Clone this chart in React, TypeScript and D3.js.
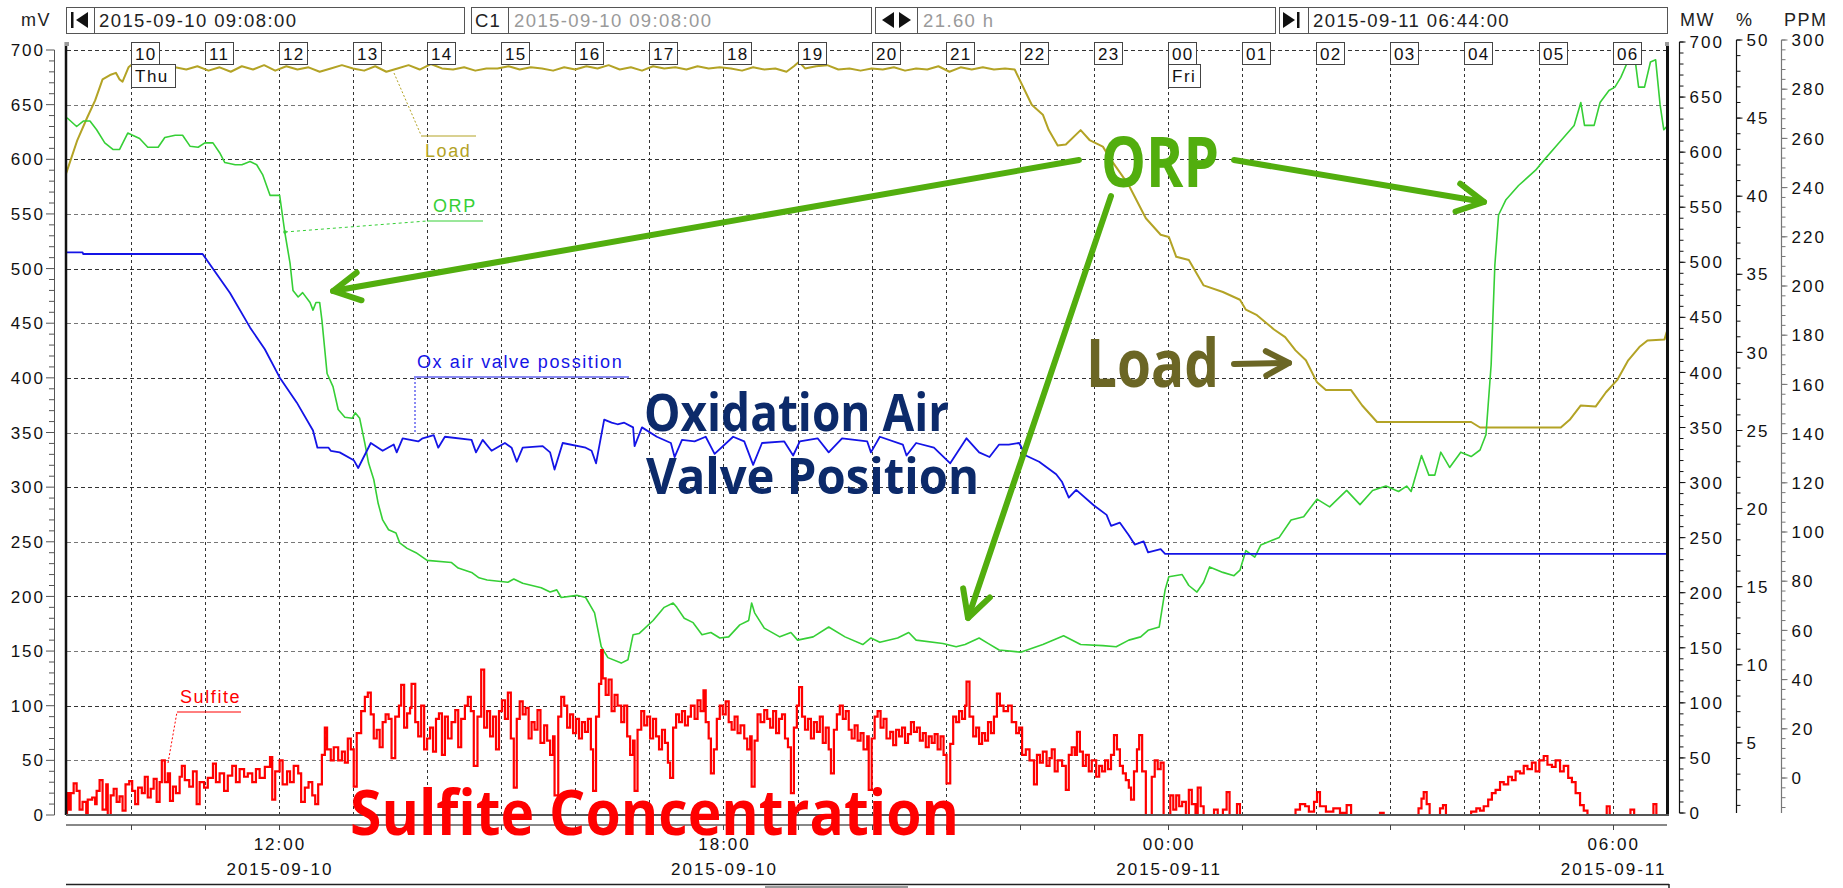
import React from "react";
import * as d3 from "d3";

// ---------- DATA (time = hours since 2015-09-10 00:00) ----------
const loadData: [number, number][] = [
  [9.13, 581], [9.28, 611], [9.41, 631], [9.52, 647], [9.62, 666], [9.72, 670], [9.8, 672], [9.85, 666], [9.89, 664], [9.97, 677], [10.04, 681],
  [10.15, 676], [10.3, 678], [10.45, 674], [10.6, 677], [10.75, 675], [10.9, 678], [11.05, 674], [11.2, 677], [11.35, 673], [11.5, 678],
  [11.65, 675], [11.8, 679], [11.95, 674], [12.1, 678], [12.25, 675], [12.4, 677], [12.55, 673], [12.7, 676], [12.85, 679], [13.0, 676],
  [13.15, 674], [13.3, 678], [13.45, 673], [13.6, 676], [13.75, 679], [13.9, 675], [14.05, 680], [14.2, 676], [14.35, 675], [14.5, 677],
  [14.65, 674], [14.8, 676], [14.95, 676], [15.1, 678], [15.25, 675], [15.4, 677], [15.55, 676], [15.7, 674], [15.85, 677], [16.0, 675],
  [16.15, 678], [16.3, 676], [16.45, 679], [16.6, 675], [16.75, 677], [16.9, 674], [17.05, 678], [17.2, 676], [17.35, 677], [17.5, 675],
  [17.65, 678], [17.8, 676], [17.95, 677], [18.1, 676], [18.25, 674], [18.4, 677], [18.55, 675], [18.7, 676], [18.85, 673], [18.95, 678],
  [19.02, 682], [19.1, 676], [19.25, 678], [19.4, 679], [19.55, 675], [19.7, 676], [19.85, 674], [20.0, 676], [20.15, 675], [20.3, 677],
  [20.45, 674], [20.6, 676], [20.75, 675], [20.9, 678], [21.05, 673], [21.2, 677], [21.35, 675], [21.5, 677], [21.65, 675], [21.8, 676],
  [21.93, 675], [22.16, 643], [22.31, 634], [22.39, 620], [22.51, 606], [22.62, 607], [22.82, 620], [22.94, 611], [23.12, 605], [23.23, 593],
  [23.47, 570], [23.7, 540], [23.9, 525], [24.01, 523], [24.11, 505], [24.28, 502], [24.48, 479], [24.74, 473], [24.97, 466], [25.05, 457],
  [25.2, 452], [25.43, 439], [25.58, 432], [25.72, 420], [25.86, 411], [26.01, 391], [26.13, 384], [26.47, 384], [26.62, 370], [26.82, 355],
  [28.09, 355], [28.21, 350], [29.3, 350], [29.42, 357], [29.57, 370], [29.77, 369], [29.91, 382], [30.06, 393], [30.21, 411], [30.36, 423],
  [30.47, 429], [30.7, 430], [30.73, 437],
];

const orpData: [number, number][] = [
  [9.14, 638], [9.27, 630], [9.36, 635], [9.45, 635], [9.54, 627], [9.65, 615], [9.76, 609], [9.85, 609], [9.96, 624], [10.12, 619],
  [10.23, 611], [10.37, 611], [10.46, 620], [10.6, 622], [10.7, 622], [10.8, 612], [10.91, 611], [11.0, 615], [11.11, 615], [11.2, 606],
  [11.27, 597], [11.41, 595], [11.5, 595], [11.61, 598], [11.7, 595], [11.78, 586], [11.88, 567], [12.01, 567], [12.08, 533], [12.15, 505],
  [12.19, 480], [12.26, 474], [12.32, 478], [12.42, 469], [12.46, 462], [12.5, 469], [12.55, 469], [12.58, 453], [12.65, 404], [12.73, 392],
  [12.8, 371], [12.89, 364], [12.99, 363], [13.03, 368], [13.09, 363], [13.16, 340], [13.21, 322], [13.28, 307], [13.34, 285], [13.4, 270],
  [13.48, 261], [13.58, 258], [13.63, 249], [13.73, 244], [13.85, 240], [14.0, 233], [14.33, 231], [14.42, 226], [14.6, 222], [14.7, 217],
  [14.81, 215], [15.09, 213], [15.17, 216], [15.29, 212], [15.54, 208], [15.66, 204], [15.75, 206], [15.81, 199], [16.02, 201], [16.14, 199],
  [16.26, 185], [16.35, 154], [16.44, 144], [16.62, 139], [16.71, 142], [16.78, 165], [16.86, 166], [17.05, 178], [17.2, 190], [17.32, 194],
  [17.37, 190], [17.47, 180], [17.59, 176], [17.71, 165], [17.83, 167], [17.95, 162], [18.07, 163], [18.22, 174], [18.34, 178], [18.38, 194],
  [18.42, 185], [18.55, 171], [18.76, 163], [18.91, 167], [19.0, 160], [19.21, 163], [19.42, 172], [19.64, 163], [19.88, 156], [19.99, 162],
  [20.11, 158], [20.35, 162], [20.5, 167], [20.6, 160], [20.96, 157], [21.14, 154], [21.26, 156], [21.45, 162], [21.57, 157], [21.72, 151],
  [22.01, 149], [22.31, 156], [22.59, 164], [22.82, 156], [23.12, 155], [23.3, 154], [23.47, 160], [23.63, 163], [23.73, 169], [23.88, 172],
  [23.96, 206], [24.01, 218], [24.19, 220], [24.28, 210], [24.39, 204], [24.48, 213], [24.56, 227], [24.74, 222], [24.89, 219], [24.97, 224],
  [25.05, 242], [25.17, 236], [25.25, 247], [25.5, 254], [25.66, 270], [25.83, 273], [26.01, 289], [26.18, 282], [26.41, 297], [26.59, 284],
  [26.76, 297], [26.94, 301], [27.11, 296], [27.22, 301], [27.28, 296], [27.42, 329], [27.52, 311], [27.6, 311], [27.68, 332], [27.8, 318],
  [27.95, 332], [28.09, 328], [28.21, 334], [28.29, 348], [28.36, 412], [28.41, 503], [28.46, 549], [28.56, 563], [28.73, 576], [28.96, 590],
  [29.07, 599], [29.25, 613], [29.48, 631], [29.57, 652], [29.62, 631], [29.75, 631], [29.83, 652], [29.95, 663], [30.03, 666], [30.11, 675],
  [30.2, 689], [30.29, 698], [30.35, 666], [30.43, 666], [30.51, 689], [30.58, 691], [30.64, 650], [30.69, 627], [30.73, 630],
];

const valveData: [number, number][] = [
  [9.13, 36.4], [9.35, 36.4], [9.36, 36.3], [10.97, 36.3], [11.34, 33.8], [11.61, 31.6], [11.81, 30.2], [12.01, 28.4], [12.24, 26.8],
  [12.46, 25.0], [12.52, 23.9], [12.67, 23.9], [12.7, 23.7], [12.82, 23.6], [13.01, 23.1], [13.07, 22.6], [13.24, 24.2], [13.4, 23.7],
  [13.55, 24.1], [13.59, 23.6], [13.67, 24.5], [13.88, 24.3], [13.94, 24.5], [14.09, 24.7], [14.15, 23.9], [14.24, 24.6], [14.6, 24.4],
  [14.66, 23.6], [14.75, 24.4], [14.87, 23.7], [15.05, 24.2], [15.14, 23.9], [15.21, 23.0], [15.29, 23.9], [15.56, 24.0], [15.66, 23.6],
  [15.72, 22.5], [15.83, 24.2], [16.14, 23.9], [16.22, 23.7], [16.28, 22.9], [16.39, 25.7], [16.49, 25.5], [16.57, 25.4], [16.66, 25.5],
  [16.78, 25.2], [16.8, 24.0], [16.9, 25.2], [17.1, 24.6], [17.29, 24.2], [17.34, 23.3], [17.44, 24.4], [17.61, 24.3], [17.76, 24.6],
  [17.88, 23.5], [18.13, 24.6], [18.28, 24.3], [18.4, 22.8], [18.52, 24.2], [18.82, 24.3], [18.94, 23.4], [19.03, 24.3], [19.27, 24.5],
  [19.42, 23.6], [19.6, 24.5], [19.94, 24.3], [19.99, 23.6], [20.11, 24.6], [20.42, 24.1], [20.47, 23.4], [20.6, 24.2], [20.84, 23.9],
  [21.06, 22.9], [21.28, 24.5], [21.45, 23.6], [21.59, 23.3], [21.72, 24.1], [21.85, 24.1], [21.99, 24.2], [22.08, 23.4], [22.26, 23.0],
  [22.49, 22.2], [22.57, 21.7], [22.66, 20.7], [22.76, 21.2], [23.0, 20.2], [23.17, 19.6], [23.23, 18.9], [23.35, 19.1], [23.47, 18.3],
  [23.55, 17.7], [23.67, 17.9], [23.73, 17.2], [23.9, 17.4], [23.96, 17.1], [30.73, 17.1],
];

const sulfiteData: [number, number][] = [
  [9.13, 0], [9.14, 20], [9.17, 5], [9.19, 20], [9.23, 29], [9.27, 22], [9.31, 5], [9.35, 12], [9.4, 0], [9.42, 14], [9.48, 16], [9.52, 10],
  [9.54, 22], [9.58, 32], [9.62, 5], [9.67, 28], [9.69, 0], [9.73, 18], [9.77, 24], [9.81, 12], [9.85, 17], [9.89, 4], [9.93, 28], [9.98, 31],
  [10.02, 22], [10.06, 10], [10.1, 25], [10.15, 20], [10.19, 35], [10.23, 16], [10.27, 24], [10.31, 33], [10.35, 12], [10.39, 30], [10.42, 50],
  [10.46, 30], [10.5, 38], [10.53, 13], [10.57, 26], [10.61, 20], [10.66, 35], [10.69, 45], [10.73, 32], [10.79, 26], [10.84, 40], [10.89, 10],
  [10.93, 30], [10.99, 25], [11.04, 34], [11.11, 47], [11.15, 30], [11.2, 38], [11.26, 22], [11.31, 36], [11.37, 45], [11.42, 30], [11.47, 42],
  [11.53, 35], [11.58, 38], [11.64, 30], [11.69, 42], [11.74, 34], [11.81, 44], [11.88, 53], [11.91, 14], [11.95, 40], [12.01, 50], [12.05, 28],
  [12.11, 40], [12.15, 30], [12.2, 45], [12.26, 38], [12.3, 12], [12.35, 25], [12.4, 30], [12.45, 18], [12.49, 10], [12.53, 28], [12.58, 55],
  [12.62, 80], [12.65, 60], [12.7, 50], [12.74, 62], [12.8, 50], [12.85, 58], [12.89, 48], [12.93, 70], [12.97, 60], [13.01, 26], [13.05, 75],
  [13.11, 95], [13.16, 108], [13.2, 112], [13.24, 92], [13.28, 70], [13.32, 78], [13.36, 62], [13.4, 85], [13.44, 92], [13.48, 88], [13.52, 52],
  [13.57, 90], [13.62, 100], [13.65, 119], [13.69, 80], [13.73, 93], [13.77, 98], [13.79, 120], [13.84, 85], [13.88, 72], [13.92, 100], [13.96, 60],
  [14.0, 70], [14.04, 80], [14.08, 58], [14.12, 88], [14.16, 93], [14.2, 55], [14.24, 90], [14.28, 70], [14.33, 85], [14.38, 96], [14.42, 62],
  [14.46, 88], [14.51, 100], [14.55, 108], [14.59, 95], [14.63, 45], [14.68, 90], [14.73, 133], [14.77, 80], [14.81, 95], [14.85, 72], [14.89, 90],
  [14.93, 60], [14.97, 95], [15.01, 105], [15.05, 88], [15.09, 112], [15.13, 70], [15.17, 25], [15.21, 88], [15.25, 104], [15.29, 92], [15.33, 98],
  [15.37, 70], [15.41, 85], [15.45, 78], [15.49, 96], [15.53, 66], [15.58, 82], [15.62, 68], [15.66, 55], [15.7, 72], [15.72, 18], [15.77, 90],
  [15.81, 108], [15.85, 100], [15.89, 80], [15.93, 92], [15.97, 75], [16.01, 88], [16.05, 70], [16.09, 85], [16.13, 76], [16.17, 88], [16.21, 60],
  [16.24, 22], [16.28, 90], [16.32, 120], [16.35, 151], [16.37, 125], [16.41, 110], [16.45, 124], [16.49, 95], [16.53, 110], [16.57, 100],
  [16.62, 85], [16.66, 100], [16.7, 72], [16.74, 55], [16.78, 68], [16.8, 22], [16.84, 78], [16.89, 95], [16.93, 82], [16.97, 90], [17.01, 70],
  [17.05, 88], [17.09, 72], [17.13, 60], [17.17, 78], [17.21, 66], [17.25, 48], [17.28, 34], [17.32, 80], [17.36, 92], [17.4, 85], [17.44, 95],
  [17.48, 82], [17.52, 90], [17.56, 100], [17.61, 88], [17.65, 105], [17.69, 95], [17.73, 114], [17.76, 85], [17.8, 70], [17.83, 38], [17.87, 60],
  [17.91, 88], [17.95, 100], [17.99, 92], [18.03, 104], [18.07, 85], [18.11, 78], [18.15, 90], [18.19, 75], [18.23, 82], [18.28, 70], [18.32, 60],
  [18.36, 72], [18.38, 26], [18.42, 68], [18.46, 92], [18.5, 85], [18.55, 96], [18.59, 88], [18.63, 80], [18.67, 95], [18.71, 75], [18.75, 88],
  [18.79, 92], [18.83, 70], [18.87, 62], [18.91, 20], [18.95, 80], [18.99, 100], [19.02, 117], [19.06, 90], [19.1, 78], [19.14, 88], [19.18, 70],
  [19.22, 85], [19.26, 76], [19.3, 90], [19.34, 66], [19.38, 80], [19.42, 60], [19.45, 38], [19.49, 78], [19.53, 92], [19.57, 100], [19.61, 88],
  [19.65, 95], [19.69, 78], [19.73, 70], [19.77, 82], [19.81, 68], [19.85, 75], [19.89, 60], [19.94, 72], [19.96, 23], [20.0, 70], [20.04, 90],
  [20.08, 95], [20.12, 80], [20.16, 88], [20.2, 70], [20.25, 76], [20.29, 64], [20.33, 78], [20.37, 72], [20.41, 80], [20.45, 66], [20.49, 74],
  [20.53, 85], [20.57, 76], [20.61, 80], [20.65, 68], [20.69, 75], [20.73, 62], [20.77, 72], [20.81, 66], [20.85, 74], [20.89, 60], [20.93, 72],
  [20.97, 55], [21.01, 29], [21.06, 65], [21.1, 90], [21.14, 85], [21.18, 95], [21.22, 88], [21.26, 100], [21.28, 122], [21.32, 90], [21.37, 72],
  [21.41, 80], [21.45, 65], [21.49, 75], [21.53, 68], [21.57, 85], [21.61, 75], [21.65, 90], [21.69, 111], [21.73, 100], [21.78, 95], [21.84, 100],
  [21.89, 85], [21.95, 75], [21.99, 80], [22.03, 55], [22.08, 60], [22.13, 50], [22.19, 28], [22.23, 55], [22.27, 48], [22.31, 58], [22.36, 45],
  [22.4, 52], [22.43, 60], [22.47, 40], [22.51, 50], [22.57, 45], [22.62, 23], [22.66, 55], [22.7, 62], [22.74, 55], [22.77, 76], [22.81, 58],
  [22.85, 45], [22.89, 55], [22.93, 40], [22.97, 50], [23.03, 35], [23.07, 45], [23.11, 40], [23.15, 50], [23.19, 42], [23.23, 55], [23.27, 73],
  [23.31, 60], [23.35, 45], [23.39, 38], [23.43, 32], [23.47, 25], [23.5, 14], [23.54, 40], [23.58, 60], [23.61, 73], [23.65, 40], [23.7, 0],
  [23.78, 35], [23.82, 50], [23.86, 42], [23.9, 48], [23.94, 0], [24.03, 18], [24.07, 5], [24.11, 18], [24.15, 8], [24.19, 12], [24.24, 0],
  [24.28, 23], [24.32, 10], [24.37, 0], [24.4, 25], [24.44, 8], [24.48, 0], [24.62, 5], [24.67, 0], [24.74, 5], [24.79, 21], [24.83, 0],
  [24.93, 10], [24.97, 0], [25.72, 5], [25.78, 10], [25.85, 8], [25.9, 3], [25.97, 12], [26.01, 21], [26.05, 8], [26.13, 3], [26.23, 6],
  [26.32, 2], [26.41, 9], [26.47, 0], [26.86, 2], [26.91, 0], [27.38, 6], [27.42, 15], [27.45, 21], [27.49, 10], [27.53, 0], [27.67, 6],
  [27.71, 9], [27.75, 0], [28.09, 3], [28.16, 6], [28.21, 4], [28.26, 8], [28.32, 14], [28.37, 20], [28.42, 23], [28.48, 30], [28.53, 28],
  [28.59, 35], [28.64, 32], [28.69, 40], [28.75, 38], [28.8, 45], [28.85, 42], [28.91, 48], [28.96, 40], [29.01, 50], [29.07, 54], [29.12, 46],
  [29.18, 44], [29.23, 50], [29.29, 40], [29.34, 45], [29.4, 34], [29.45, 30], [29.5, 20], [29.56, 9], [29.61, 4], [29.66, 0], [29.92, 8],
  [29.96, 0], [30.24, 5], [30.29, 0], [30.55, 10], [30.59, 0], [30.73, 0],
];

const mvTicks = [0, 50, 100, 150, 200, 250, 300, 350, 400, 450, 500, 550, 600, 650, 700];
const mwTicks = [0, 50, 100, 150, 200, 250, 300, 350, 400, 450, 500, 550, 600, 650, 700];
const pctTicks = [5, 10, 15, 20, 25, 30, 35, 40, 45, 50];
const ppmTicks = [0, 20, 40, 60, 80, 100, 120, 140, 160, 180, 200, 220, 240, 260, 280, 300];
const timeLabelHours = [12, 18, 24, 30];
const dayBoxes: [number, string][] = [[10, "Thu"], [24, "Fri"]];

// ---------- SCALES ----------
const base = new Date(2015, 8, 10, 0, 0, 0).getTime();
const toDate = (h: number) => new Date(base + h * 3600000);
const tStart = toDate(9 + 8 / 60);
const tEnd = toDate(30 + 44 / 60);

const x = d3.scaleTime().domain([tStart, tEnd]).range([66.5, 1667]);
const yMv = d3.scaleLinear().domain([0, 700]).range([815, 50]);
const yMw = d3.scaleLinear().domain([0, 700]).range([813, 42]);
const yPct = d3.scaleLinear().domain([0, 50]).range([821, 40]);
const yPpm = d3.scaleLinear().domain([0, 300]).range([778, 40]);

const FONT = "'Liberation Sans', Arial, sans-serif";
const BIG = "'Open Sans', 'Noto Sans', sans-serif";

const lineGen = (ys: (v: number) => number, curve: any = d3.curveLinear) =>
  d3.line<[number, number]>().x((d) => x(toDate(d[0]))).y((d) => ys(d[1])).curve(curve);

function Arrow({ x1, y1, x2, y2, color, w = 6, arm = 30, ang = 28 }: any) {
  const a = Math.atan2(y1 - y2, x1 - x2);
  const r = (ang * Math.PI) / 180;
  const p1 = [x2 + arm * Math.cos(a + r), y2 + arm * Math.sin(a + r)];
  const p2 = [x2 + arm * Math.cos(a - r), y2 + arm * Math.sin(a - r)];
  return (
    <g stroke={color} strokeWidth={w} strokeLinecap="round" strokeLinejoin="round" fill="none">
      <line x1={x1} y1={y1} x2={x2} y2={y2} />
      <polyline points={`${p1[0]},${p1[1]} ${x2},${y2} ${p2[0]},${p2[1]}`} />
    </g>
  );
}

function RightAxis({ scale, x0, major, minorStep, yMin, yMax, lo, hi, color = "#111" }: any) {
  const minors = d3.range(lo, hi + 0.001, minorStep).filter((v: number) => scale(v) <= yMax + 0.5 && scale(v) >= yMin - 0.5);
  return (
    <g>
      <line x1={x0} x2={x0} y1={yMin} y2={yMax} stroke={color} strokeWidth={1.2} />
      {minors.map((v: number, i: number) => (
        <line key={"m" + i} x1={x0} x2={x0 + 4} y1={scale(v)} y2={scale(v)} stroke={color} strokeWidth={1} />
      ))}
      {major.filter((v: number) => scale(v) <= yMax + 0.5).map((v: number) => (
        <g key={v}>
          <line x1={x0} x2={x0 + 6} y1={scale(v)} y2={scale(v)} stroke={color} strokeWidth={1} />
          <text x={x0 + 10} y={scale(v)} dy="0.36em" fontSize={17} letterSpacing={2} fill="#111" fontFamily={FONT}>
            {v}
          </text>
        </g>
      ))}
    </g>
  );
}

export default function App() {
  const hours = d3.timeHour.every(1)!.range(tStart, tEnd);
  const fmtH = d3.timeFormat("%H");
  const fmtHM = d3.timeFormat("%H:%M");
  const fmtD = d3.timeFormat("%Y-%m-%d");
  const mvMinor = d3.range(0, 701, 10);

  const loadPath = lineGen(yMw)(loadData) || "";
  const orpPath = lineGen(yMv)(orpData) || "";
  const valvePath = lineGen(yPct)(valveData) || "";
  const sulfitePath = lineGen(yMv, d3.curveStepAfter)(sulfiteData) || "";

  const headerBox = (x0: number, x1: number, divX: number) => (
    <g>
      <rect x={x0 + 0.5} y={7.5} width={x1 - x0} height={26} fill="#fff" stroke="#555" strokeWidth={1} />
      <line x1={divX + 0.5} x2={divX + 0.5} y1={8} y2={33} stroke="#555" />
    </g>
  );

  return (
    <svg width={1843} height={888} style={{ position: "absolute", left: 0, top: 0, background: "#fff" }} fontFamily={FONT}>
      <rect x={0} y={0} width={1843} height={888} fill="#fff" />

      {/* header */}
      <text x={21} y={26} fontSize={18} letterSpacing={1.5} fill="#222">mV</text>
      {headerBox(66, 464, 94)}
      <rect x={71} y={12} width={2.5} height={16} fill="#111" />
      <polygon points="88,12 76,20 88,28" fill="#111" />
      <text x={99} y={27} fontSize={18.5} letterSpacing={1.4} fill="#222">2015-09-10 09:08:00</text>

      {headerBox(471, 871, 508)}
      <text x={475} y={27} fontSize={18.5} letterSpacing={1.2} fill="#222">C1</text>
      <text x={514} y={27} fontSize={18.5} letterSpacing={1.4} fill="#9a9a9a">2015-09-10 09:08:00</text>

      {headerBox(875, 1275, 917)}
      <polygon points="894,12 882,20 894,28" fill="#111" />
      <polygon points="899,12 911,20 899,28" fill="#111" />
      <text x={923} y={27} fontSize={18.5} letterSpacing={1.4} fill="#9a9a9a">21.60 h</text>

      {headerBox(1279, 1667, 1308)}
      <polygon points="1283,12 1295,20 1283,28" fill="#111" />
      <rect x={1297} y={12} width={2.5} height={16} fill="#111" />
      <text x={1313} y={27} fontSize={18.5} letterSpacing={1.4} fill="#222">2015-09-11 06:44:00</text>

      <text x={1680} y={26} fontSize={18} letterSpacing={1.5} fill="#222">MW</text>
      <text x={1736} y={26} fontSize={18} letterSpacing={1.5} fill="#222">%</text>
      <text x={1784} y={26} fontSize={18} letterSpacing={1.5} fill="#222">PPM</text>

      {/* horizontal grid */}
      {mvTicks.filter((v) => v > 0).map((v) => (
        <line key={"hg" + v} x1={67} x2={1666} y1={Math.round(yMv(v)) + 0.5} y2={Math.round(yMv(v)) + 0.5}
          stroke={v % 100 === 0 ? "#333" : "#777"} strokeWidth={1} strokeDasharray="4 3" />
      ))}
      {/* vertical grid */}
      {hours.map((d, i) => (
        <line key={"vg" + i} x1={Math.round(x(d)) + 0.5} x2={Math.round(x(d)) + 0.5} y1={44} y2={815}
          stroke="#333" strokeWidth={1} strokeDasharray="3 3" />
      ))}

      {/* left axis */}
      <line x1={54.5} x2={54.5} y1={yMv(700)} y2={yMv(0)} stroke="#555" strokeWidth={1} />
      {mvMinor.map((v) => (
        <line key={"lm" + v} x1={v % 50 === 0 ? 46 : 49} x2={54.5} y1={yMv(v)} y2={yMv(v)} stroke="#555" strokeWidth={1} />
      ))}
      {mvTicks.map((v) => (
        <text key={"ll" + v} x={45} y={yMv(v)} dy="0.36em" textAnchor="end" fontSize={17} letterSpacing={2} fill="#111">
          {v}
        </text>
      ))}

      {/* right axes */}
      <RightAxis scale={yMw} x0={1679.5} major={mwTicks} minorStep={10} lo={0} hi={700} yMin={42} yMax={813} />
      <RightAxis scale={yPct} x0={1736.5} major={pctTicks} minorStep={1} lo={0} hi={50} yMin={40} yMax={813} />
      <RightAxis scale={yPpm} x0={1781.5} major={ppmTicks} minorStep={4} lo={-16} hi={300} yMin={40} yMax={813} color="#777" />

      {/* series */}
      <path d={loadPath} fill="none" stroke="#b3a325" strokeWidth={2} strokeLinejoin="round" />
      <path d={orpPath} fill="none" stroke="#36cf36" strokeWidth={1.6} strokeLinejoin="round" />
      <path d={valvePath} fill="none" stroke="#1414e6" strokeWidth={1.8} strokeLinejoin="round" />
      <path d={sulfitePath} fill="none" stroke="#ff0000" strokeWidth={2.2} />

      {/* frame */}
      <line x1={66} x2={66} y1={42} y2={815} stroke="#111" strokeWidth={2.5} />
      <line x1={1667.5} x2={1667.5} y1={42} y2={815} stroke="#111" strokeWidth={3} />
      <rect x={65} y={42} width={4} height={4} fill="#999" />
      <rect x={1665} y={42} width={4} height={4} fill="#999" />
      <line x1={66} x2={1669} y1={815} y2={815} stroke="#555" strokeWidth={2} />

      {/* hour boxes */}
      {hours.map((d, i) => (
        <g key={"hb" + i}>
          <rect x={Math.round(x(d)) + 0.5} y={42.5} width={28} height={22} fill="#fff" stroke="#444" strokeWidth={1} />
          <text x={Math.round(x(d)) + 4} y={60} fontSize={17} letterSpacing={1.2} fill="#111">{fmtH(d)}</text>
        </g>
      ))}
      {dayBoxes.map(([h, lbl]) => (
        <g key={"db" + lbl}>
          <rect x={Math.round(x(toDate(h))) + 0.5} y={64.5} width={lbl === "Thu" ? 44 : 32} height={23} fill="#fff" stroke="#444" strokeWidth={1} />
          <text x={Math.round(x(toDate(h))) + 4} y={82} fontSize={17} letterSpacing={1.5} fill="#111">{lbl}</text>
        </g>
      ))}

      {/* time axis */}
      <line x1={66} x2={1667} y1={825} y2={825} stroke="#888" strokeWidth={2} />
      {hours.map((d, i) => (
        <line key={"tt" + i} x1={Math.round(x(d)) + 0.5} x2={Math.round(x(d)) + 0.5} y1={825} y2={830} stroke="#444" strokeWidth={1} />
      ))}
      {timeLabelHours.map((h) => (
        <g key={"tl" + h}>
          <text x={x(toDate(h)) + 1} y={850} textAnchor="middle" fontSize={17} letterSpacing={2} fill="#111">{fmtHM(toDate(h))}</text>
          <text x={x(toDate(h)) + 1} y={875} textAnchor="middle" fontSize={17} letterSpacing={2} fill="#111">{fmtD(toDate(h))}</text>
        </g>
      ))}
      <line x1={66} x2={1669} y1={884.5} y2={884.5} stroke="#222" strokeWidth={1.5} />
      <line x1={1669} x2={1669} y1={884} y2={888} stroke="#222" strokeWidth={1.5} />
      <rect x={765} y={886} width={143} height={2} fill="#999" />

      {/* small series labels with leaders */}
      <g fontSize={18} letterSpacing={1.6}>
        <line x1={394} y1={73} x2={421} y2={135} stroke="#b3a325" strokeWidth={1} strokeDasharray="2 2" />
        <line x1={421} y1={136} x2={476} y2={136} stroke="#b3a325" strokeWidth={1} />
        <text x={425} y={157} fill="#b3a325">Load</text>

        <circle cx={285} cy={232} r={1.8} fill="#36cf36" />
        <line x1={285} y1={232} x2={427} y2={221} stroke="#36cf36" strokeWidth={1} strokeDasharray="3 3" />
        <line x1={427} y1={221} x2={483} y2={221} stroke="#36cf36" strokeWidth={1} />
        <text x={433} y={212} fill="#36cf36">ORP</text>

        <line x1={415} y1={432} x2={415} y2={377} stroke="#1414e6" strokeWidth={1} strokeDasharray="2 2" />
        <line x1={414} y1={377} x2={629} y2={377} stroke="#1414e6" strokeWidth={1} />
        <text x={417} y={368} fill="#1414e6">Ox air valve possition</text>

        <line x1={168} y1={763} x2={177} y2={712} stroke="#ff0000" strokeWidth={1} strokeDasharray="2 2" />
        <line x1={177} y1={712} x2={241} y2={712} stroke="#ff0000" strokeWidth={1} />
        <text x={180} y={703} fill="#ff0000">Sulfite</text>
      </g>

      {/* big annotations */}
      <Arrow x1={1079} y1={160} x2={333} y2={291} color="#52ae0e" />
      <Arrow x1={1234} y1={160} x2={1484} y2={202} color="#52ae0e" />
      <Arrow x1={1111} y1={196} x2={968} y2={618} color="#52ae0e" />
      <Arrow x1={1234} y1={364} x2={1289} y2={363} color="#6b6625" arm={26} />

      <g fontFamily={BIG} fontWeight={700}>
        <text x={1101} y={187} fontSize={70} textLength={118} lengthAdjust="spacingAndGlyphs" fill="#52ae0e">ORP</text>
        <text x={1086} y={387} fontSize={66} textLength={133} lengthAdjust="spacingAndGlyphs" fill="#6b6625">Load</text>
        <text x={644} y={431} fontSize={52} textLength={305} lengthAdjust="spacingAndGlyphs" fill="#0c2a6a">Oxidation Air</text>
        <text x={646} y={494} fontSize={51} textLength={333} lengthAdjust="spacingAndGlyphs" fill="#0c2a6a">Valve Position</text>
        <text x={350} y={835} fontSize={63} textLength={609} lengthAdjust="spacingAndGlyphs" fill="#ff0000">Sulfite Concentration</text>
      </g>
    </svg>
  );
}
